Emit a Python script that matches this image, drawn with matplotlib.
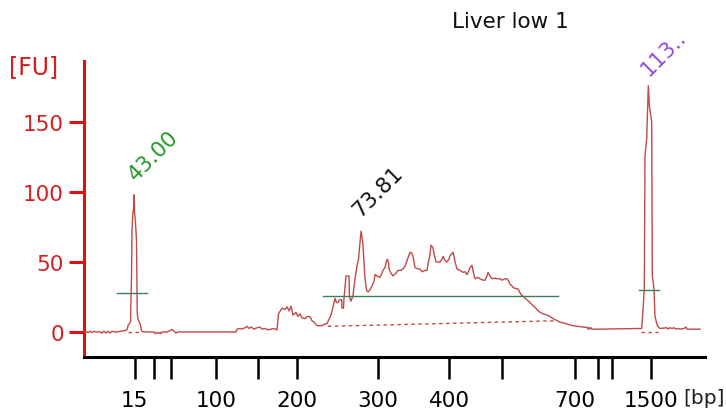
import numpy as np
import matplotlib
matplotlib.use("Agg")
import matplotlib.pyplot as plt

plt.rcParams['font.family'] = ['DejaVu Sans']

title = "Liver low 1"

# electropherogram trace: migration time [s] and fluorescence [FU]
time = [8.4, 8.6, 8.8, 9.0, 9.2, 9.4, 9.6, 10.0, 10.2, 10.4, 10.6, 10.8, 11.0, 11.2, 11.4, 11.8, 12.0, 12.4, 12.7,
        12.83, 13.05, 13.15, 13.2, 13.27, 13.35, 13.42, 13.46, 13.53, 13.65, 13.72, 13.8, 14.0, 14.15, 14.3,
        14.8, 15.4, 15.5, 15.7, 15.8, 16.0, 16.1, 16.2, 16.7, 17.0, 17.2, 17.4, 17.6, 17.8, 23.6,
        23.7, 24.0, 24.2, 24.5, 24.7, 24.9, 25.1, 25.4, 25.7, 26.0, 26.2, 26.5, 26.8, 27.1, 27.4, 27.7,
        27.85, 28.2, 28.5, 28.7, 28.9, 29.1, 29.3, 29.6, 29.8, 30.0, 30.2, 30.5, 30.7, 31.0, 31.2, 31.4,
        31.7, 32.2, 32.4, 32.7, 32.9, 33.1, 33.3, 33.5, 33.65, 33.8, 33.95, 34.17, 34.2, 34.35, 34.4, 34.6,
        34.9, 34.95, 35.1, 35.3, 35.5, 35.7, 35.85, 36.0, 36.1, 36.2, 36.3, 36.4, 36.5, 36.65, 36.8, 37.0,
        37.2, 37.4, 37.5, 37.7, 38.0, 38.2, 38.3, 38.5, 38.7, 38.85, 38.9, 39.1, 39.3, 39.6, 39.8, 40.1,
        40.3, 40.5, 40.7, 40.9, 41.0, 41.2, 41.3, 41.5, 41.8, 42.0, 42.2, 42.5, 42.7, 42.8, 43.0, 43.1,
        43.3, 43.4, 43.6, 43.8, 44.0, 44.2, 44.3, 44.5, 44.7, 44.9, 45.0, 45.2, 45.3, 45.4, 45.5, 45.7,
        46.0, 46.3, 46.5, 46.7, 46.9, 47.0, 47.2, 47.3, 47.5, 47.8, 48.0, 48.3, 48.5, 48.7, 48.8, 49.0,
        49.2, 49.5, 49.7, 50.0, 50.2, 50.5, 50.7, 50.9, 51.0, 51.2, 51.3, 51.6, 51.8, 52.0, 52.2, 52.4,
        52.5, 52.7, 53.0, 53.2, 53.5, 53.7, 54.0, 54.3, 54.7, 55.0, 55.3, 55.6, 56.0, 56.3, 56.7, 57.0,
        57.3, 57.8, 58.3, 58.7, 58.8, 58.9, 59.0, 59.1, 59.2, 60.0, 64.17, 64.33, 64.43, 64.5, 64.67,
        64.83, 64.93, 65.17, 65.23, 65.4, 65.5, 65.73, 66.0, 66.7, 66.8, 67.0, 67.2, 67.4, 67.6, 67.8,
        68.0, 68.4, 68.6, 68.7, 70.0]
fluorescence = [0, 0.5, -0.5, 0.5, -0.5, 0.5, 0, 0, -0.8, 0.5, -0.8, 0.5, -0.8, 0.5, 0, 0, 0.5, 0.8, 1.5,
                5, 7, 40, 73, 83, 88, 98, 85, 80, 66, 14, 9, 6, 1, 0,
                0, 0, -1.2, -0.3, -1.2, -0.3, -1.2, 0, 0, 1, 1.8, 0.5, -0.8, 0, 0,
                2, 2.5, 2, 3, 4, 2.5, 3.5, 2, 3, 3.5, 2, 2.5, 1.5, 2, 2.5, 1.5,
                13, 17, 16, 18, 15, 18.5, 12, 14, 11, 13, 10, 9.5, 11, 11, 8, 7,
                4.5, 4.5, 5.5, 6, 9, 12, 18, 24, 21, 21, 23, 23, 17, 17, 24, 40,
                40, 25, 22, 26, 38, 47, 52, 64, 72, 68, 62, 50, 38, 30, 28.5, 30,
                33, 36, 41, 40, 39, 42, 44, 46, 52, 50, 45, 42, 40, 42, 44, 44,
                45, 47, 51, 55, 57, 56, 54, 46, 45, 45, 43, 44, 44, 48.6, 55, 62,
                60, 56, 50, 50, 50, 52, 54, 51, 50, 52, 54.5, 56, 57, 54, 50, 45,
                44, 42.6, 43, 41, 44, 46, 47.6, 44, 38, 39, 38, 37, 37, 40, 42.6, 40,
                38, 38.5, 38, 38, 37, 38, 38, 36, 34, 33, 31.7, 31, 30.7, 28, 26, 25,
                24, 23, 21, 19.5, 17.6, 16, 14, 13, 12, 11, 9.5, 8.5, 7, 6.5, 5.7, 5,
                4.5, 4, 3.5, 3.3, 2, 3.3, 2, 3, 2, 2, 2.5, 19, 31, 126, 138,
                176, 162, 150, 40, 31, 11, 4.5, 2.5, 3, 2, 3, 2.5, 3, 2, 2.5,
                2, 2.5, 3.5, 2, 2]

# ladder (size standard) positions on the time axis
ladder_bp = [15, 25, 50, 100, 150, 200, 300, 400, 500, 700, 850, 1000, 1500]
ladder_time = [13.47, 15.4, 17.1, 21.6, 25.8, 29.7, 37.8, 44.9, 50.2, 57.5, 59.8, 61.2, 65.1]
ladder_labels = ["15", "", "", "100", "", "200", "300", "400", "", "700", "", "", "1500"]

# peaks: label, label position (time, FU), colour
peak_labels = ["43.00", "73.81", "113.."]
peak_label_time = [13.85, 36.3, 65.15]
peak_label_fu = [106, 80, 181]
peak_colors = ["#239a23", "#111111", "#8b4fd8"]

# integration regions: start / end time, marker level, baseline start / end level
region_start = [11.67, 32.3, 63.9]
region_end = [14.67, 55.8, 65.9]
region_level = [28, 25.5, 29.8]
base_start = [12.8, 32.8, 64.1]
base_end = [14.1, 55.5, 65.8]
base_lvl_start = [0, 4, 0]
base_lvl_end = [0, 8, 0]

trace_color = "#bf4a47"
red = "#e01010"

fig = plt.figure(figsize=(7.26, 4.14), dpi=100)
ax = fig.add_axes([84/726, 1-358/414, 621/726, (358-62)/414])

ax.plot(time, fluorescence, color=trace_color, lw=1.0, zorder=3)
for s, e, lv in zip(region_start, region_end, region_level):
    ax.plot([s, e], [lv, lv], color="#3c7d5e", lw=1.0, zorder=4)
for s, e, l1, l2 in zip(base_start, base_end, base_lvl_start, base_lvl_end):
    ax.plot([s, e], [l1, l2], color=trace_color, lw=1.0, ls=(0, (2.5, 2.5)), zorder=2)

for lab, t, f, c in zip(peak_labels, peak_label_time, peak_label_fu, peak_colors):
    ax.text(t, f, lab, rotation=45, rotation_mode='anchor', ha='left', va='bottom',
            color=c, fontsize=15.5, clip_on=False)

ax.set_xlim(8.4, 70.5)
ax.set_ylim(-17.9, 193.6)

ax.set_xticks(ladder_time)
ax.set_xticklabels(ladder_labels)
ax.set_yticks([0, 50, 100, 150])

for sp in ['top', 'right']:
    ax.spines[sp].set_visible(False)
ax.spines['left'].set_color(red)
ax.spines['left'].set_linewidth(2.2)
ax.spines['bottom'].set_color('black')
ax.spines['bottom'].set_linewidth(2.2)

ax.tick_params(axis='y', colors=red, labelcolor="#d42020", length=11, width=2.2,
               pad=3.5, labelsize=15.5)
ax.tick_params(axis='x', colors='black', length=16, width=1.8, pad=8, labelsize=15.5)

fig.text(510/726, 1-22/414, title, ha='center', va='center', fontsize=15.5, color='#111111')
fig.text(9/726, 1-67/414, "[FU]", ha='left', va='center', fontsize=17, color="#d42020")
fig.text(683/726, 1-399/414, "[bp]", ha='left', va='center', fontsize=14.5, color='#222222')

fig.savefig("out.png", dpi=100)
